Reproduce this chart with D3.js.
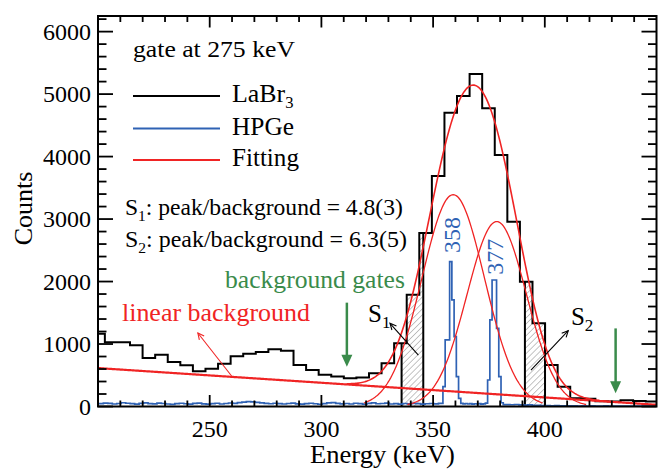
<!DOCTYPE html>
<html>
<head>
<meta charset="utf-8">
<script src="https://cdn.jsdelivr.net/npm/d3@7/dist/d3.min.js"></script>
<style>
body { margin: 0; background: #fff; }
</style>
</head>
<body>
<svg id="chart" width="658" height="474"></svg>
<script>
// LaBr3 spectrum, fixed bins (first bin starts just below 200 keV)
const LABR_START = 197.44;
const LABR_WIDTH = 5.63;
const labrCounts = [1165, 1030, 1030, 980, 776, 829, 712, 659, 563, 605, 685, 803, 845, 872, 915,
    893, 664, 584, 510, 480, 451, 464, 531, 691, 1012, 1790, 2778, 3690, 4703, 4970, 5323, 4773,
    4026, 2958, 1998, 1332, 664, 317, 131, 125, 85, 80, 100, 90, 80];

// HPGe spectrum in three pieces: 2 keV bins, 1 keV bins around the peaks, 2 keV bins again
const HPGE_LOW_START = 198.4, HPGE_LOW_W = 2;
const hpgeLowCounts = [48, 45, 55, 50, 40, 48, 60, 52, 45, 38, 50, 58, 47, 42, 55, 48, 40, 35, 46, 52,
    44, 38, 49, 55, 43, 37, 45, 52, 40, 48, 56, 50, 62, 70, 78, 75, 66, 58, 50, 44, 52, 47, 40, 48,
    55, 42, 38, 46, 52, 44, 36, 45, 58, 62, 50, 42, 48, 40, 52, 45, 38, 50, 57, 44, 48, 55, 40, 46,
    38, 48, 42, 50, 45, 38, 44, 48, 42, 50];
const HPGE_PEAK_START = 354.4, HPGE_PEAK_W = 1;
const hpgePeakCounts = [317, 1065, 1065, 2318, 1705, 1117, 477, 131, 50, 42, 48, 40, 45, 38, 44, 40,
    46, 38, 42, 55, 424, 1385, 2025, 2025, 1252, 477, 60, 30];
const HPGE_HIGH_START = 382.4, HPGE_HIGH_W = 2;
const hpgeHighCounts = [30, 28, 32, 25, 22, 26, 20, 18, 15, 14, 12, 15, 10, 12, 9, 11, 8, 10, 7, 9,
    8, 6, 9, 7, 8, 6, 7, 5, 8, 6, 7, 5, 6, 6];

// fit: linear background + two gaussians
const bgAt200 = 615, bgSlope = -2.35;
const peakLabels = ["358", "377"];
const peakAmp = [3390, 2960];
const peakMean = [359, 378.5];
const peakSigma = [14, 13.3];
const peakDrawRange = [[319, 399], [338.5, 418.5]];
const totalDrawRange = [311.4, 431.7];

// gates and annotations (keV, counts)
const gateS1 = [335.9, 345.6];
const gateS2 = [391.1, 400.1];
const bgGateE = [311.4, 431.7];
const bgGateTip = [637, 211];
const bgGateTail = [1662, 1250];

const xMajor = [250, 300, 350, 400];
const yMajor = [0, 1000, 2000, 3000, 4000, 5000, 6000];

const RED = "#f02424", BLUE = "#2f62b4", GREEN = "#3a8b4b";
const FONT = "Liberation Serif";

const svg = d3.select("#chart");
const x = d3.scaleLinear().domain([200, 450]).range([98, 656.5]);
const y = d3.scaleLinear().domain([0, 6250]).range([406.5, 16]);

const defs = svg.append("defs");
defs.append("clipPath").attr("id", "plot")
    .append("rect").attr("x", 98).attr("y", 16).attr("width", 558.5).attr("height", 390.5);
const pat = defs.append("pattern").attr("id", "hatch")
    .attr("width", 4.2).attr("height", 4.2)
    .attr("patternUnits", "userSpaceOnUse")
    .attr("patternTransform", "rotate(45)");
pat.append("line").attr("x1", 0).attr("y1", 0).attr("x2", 0).attr("y2", 4.2)
    .attr("stroke", "#8a8a8a").attr("stroke-width", 1);

const plot = svg.append("g").attr("clip-path", "url(#plot)");

// build bins
const labrBins = labrCounts.map((c, i) => ({lo: LABR_START + i * LABR_WIDTH, hi: LABR_START + (i + 1) * LABR_WIDTH, c}));
function piece(start, w, counts) {
    return counts.map((c, i) => ({lo: start + i * w, hi: start + (i + 1) * w, c}));
}
const hpgeBins = piece(HPGE_LOW_START, HPGE_LOW_W, hpgeLowCounts)
    .concat(piece(HPGE_PEAK_START, HPGE_PEAK_W, hpgePeakCounts))
    .concat(piece(HPGE_HIGH_START, HPGE_HIGH_W, hpgeHighCounts));

function steps(bins) {
    const pts = [];
    bins.forEach(b => { pts.push([b.lo, b.c]); pts.push([b.hi, b.c]); });
    return pts;
}
const line = d3.line().x(d => x(d[0])).y(d => y(d[1]));

// hatched gate areas
function gatePoly(a, b) {
    const pts = [[a, 0]];
    labrBins.forEach(bin => {
        const lo = Math.max(bin.lo, a), hi = Math.min(bin.hi, b);
        if (hi > lo) pts.push([lo, bin.c], [hi, bin.c]);
    });
    pts.push([b, 0]);
    return pts;
}
function binValue(e) {
    const b = labrBins.find(b => e >= b.lo && e <= b.hi);
    return b ? b.c : 0;
}
[gateS1, gateS2].forEach(g => {
    plot.append("path").attr("d", line(gatePoly(g[0], g[1])) + "Z")
        .attr("fill", "url(#hatch)").attr("stroke", "none");
    g.forEach(e => {
        plot.append("line")
            .attr("x1", x(e)).attr("x2", x(e))
            .attr("y1", y(0)).attr("y2", y(binValue(e)))
            .attr("stroke", "#000").attr("stroke-width", 2);
    });
});

// HPGe
plot.append("path").attr("d", line(steps(hpgeBins)))
    .attr("fill", "none").attr("stroke", BLUE).attr("stroke-width", 1.7);

// LaBr3
plot.append("path").attr("d", line(steps(labrBins)))
    .attr("fill", "none").attr("stroke", "#000").attr("stroke-width", 2);

// fit curves
const bg = e => bgAt200 + bgSlope * (e - 200);
const gauss = (i, e) => peakAmp[i] * Math.exp(-Math.pow(e - peakMean[i], 2) / (2 * peakSigma[i] * peakSigma[i]));
const curve = d3.line().x(d => x(d[0])).y(d => y(d[1]));
function sample(a, b, f) {
    return d3.range(a, b, 0.5).concat([b]).map(e => [e, f(e)]);
}
peakMean.forEach((m, i) => {
    plot.append("path").attr("d", curve(sample(peakDrawRange[i][0], peakDrawRange[i][1], e => gauss(i, e))))
        .attr("fill", "none").attr("stroke", RED).attr("stroke-width", 1.3);
});
plot.append("path").attr("d", curve(sample(200, 450, bg)))
    .attr("fill", "none").attr("stroke", RED).attr("stroke-width", 2.2);
plot.append("path").attr("d", curve(sample(totalDrawRange[0], totalDrawRange[1], e => bg(e) + gauss(0, e) + gauss(1, e))))
    .attr("fill", "none").attr("stroke", RED).attr("stroke-width", 1.6);

// frame and ticks (inward, on all four sides)
const frame = svg.append("g");
const xMinor = d3.range(210, 450, 10).filter(v => !xMajor.includes(v));
const yMinor = d3.range(200, 6250, 200).filter(v => !yMajor.includes(v));
function tick(g, x1, y1, x2, y2) {
    g.append("line").attr("x1", x1).attr("y1", y1).attr("x2", x2).attr("y2", y2)
        .attr("stroke", "#000").attr("stroke-width", 1.8);
}
xMajor.forEach(v => { tick(frame, x(v), 406.5, x(v), 395); tick(frame, x(v), 16, x(v), 27.5); });
xMinor.forEach(v => { tick(frame, x(v), 406.5, x(v), 400.5); tick(frame, x(v), 16, x(v), 22); });
yMajor.forEach(v => { tick(frame, 98, y(v), 113, y(v)); tick(frame, 656.5, y(v), 641.5, y(v)); });
yMinor.forEach(v => { tick(frame, 98, y(v), 106.5, y(v)); tick(frame, 656.5, y(v), 648, y(v)); });
frame.append("rect").attr("x", 98).attr("y", 16).attr("width", 558.5).attr("height", 390.5)
    .attr("fill", "none").attr("stroke", "#000").attr("stroke-width", 2);

function txt(parent, size) {
    return parent.append("text").attr("font-family", FONT).attr("font-size", size);
}
// stretch a text horizontally so it spans the same width as in the original figure
function fitWidth(t, target) {
    const w = t.node().getComputedTextLength();
    if (!w) return;
    const ax = +t.attr("x"), ay = +t.attr("y"), s = target / w;
    t.attr("transform", `translate(${ax},${ay}) scale(${s},1) translate(${-ax},${-ay})`);
}

// tick labels
yMajor.forEach(v => {
    txt(svg, 24).attr("x", 91).attr("y", y(v)).attr("dy", "0.34em")
        .attr("text-anchor", "end").text(v);
});
xMajor.forEach(v => {
    txt(svg, 24).attr("x", x(v)).attr("y", 437)
        .attr("text-anchor", "middle").text(v);
});

// axis titles
txt(svg, 26).attr("transform", "translate(32,208.5) rotate(-90)")
    .attr("text-anchor", "middle").text("Counts");
fitWidth(txt(svg, 26).attr("x", 382.5).attr("y", 463)
    .attr("text-anchor", "middle").text("Energy (keV)"), 145);

// header and legend
fitWidth(txt(svg, 24).attr("x", 133).attr("y", 57).text("gate at 275 keV"), 162);
const legendItems = [
    {label: "LaBr", sub: "3", color: "#000", w: 61.5},
    {label: "HPGe", sub: "", color: BLUE, w: 62},
    {label: "Fitting", sub: "", color: RED, w: 67}
];
const legendY = [96, 128.5, 160];
legendItems.forEach((it, i) => {
    svg.append("line").attr("x1", 133).attr("x2", 220).attr("y1", legendY[i]).attr("y2", legendY[i])
        .attr("stroke", it.color).attr("stroke-width", 2);
    const t = txt(svg, 25).attr("x", 232).attr("y", legendY[i] + 6.5).text(it.label);
    if (it.sub) t.append("tspan").attr("dy", 6).attr("font-size", 16).text(it.sub);
    fitWidth(t, it.w);
});

// peak/background ratios
const ratioLines = [["1", "4.8(3)"], ["2", "6.3(5)"]];
const ratioY = [215, 247];
const ratioW = [278, 282];
ratioLines.forEach((r, i) => {
    const t = txt(svg, 23).attr("x", 125).attr("y", ratioY[i]).text("S");
    t.append("tspan").attr("dy", 6).attr("font-size", 15).text(r[0]);
    t.append("tspan").attr("dy", -6).text(": peak/background = " + r[1]);
    fitWidth(t, ratioW[i]);
});

// background gates
fitWidth(txt(svg, 25.5).attr("x", 225).attr("y", 288).attr("fill", GREEN).text("background gates"), 180);
bgGateE.forEach((e, i) => {
    const xt = x(e), yTip = y(bgGateTip[i]), yTail = y(bgGateTail[i]);
    svg.append("line").attr("x1", xt).attr("x2", xt).attr("y1", yTail).attr("y2", yTip - 10)
        .attr("stroke", GREEN).attr("stroke-width", 2.5);
    svg.append("path")
        .attr("d", `M${xt - 5.5},${yTip - 12}L${xt + 5.5},${yTip - 12}L${xt},${yTip}Z`)
        .attr("fill", GREEN);
});

// arrows with open heads
function arrow(e1, c1, e2, c2, color) {
    const x1 = x(e1), y1 = y(c1), x2 = x(e2), y2 = y(c2);
    const a = Math.atan2(y2 - y1, x2 - x1), L = 7, w = 0.45;
    svg.append("line").attr("x1", x1).attr("y1", y1).attr("x2", x2).attr("y2", y2)
        .attr("stroke", color).attr("stroke-width", 1.1);
    svg.append("path")
        .attr("d", `M${x2 - L * Math.cos(a - w)},${y2 - L * Math.sin(a - w)}L${x2},${y2}L${x2 - L * Math.cos(a + w)},${y2 - L * Math.sin(a + w)}`)
        .attr("fill", "none").attr("stroke", color).attr("stroke-width", 1.1);
}
fitWidth(txt(svg, 25.5).attr("x", 122).attr("y", 321).attr("fill", RED).text("linear background"), 188);
arrow(259.8, 488, 244.7, 1176, RED);

// S1 / S2 labels
const sLabels = [{n: "1", e: 320.9, c: 1352}, {n: "2", e: 411.7, c: 1304}];
sLabels.forEach(s => {
    const t = txt(svg, 25).attr("x", x(s.e)).attr("y", y(s.c)).text("S");
    t.append("tspan").attr("dy", 6).attr("font-size", 17).text(s.n);
});
arrow(343.4, 824, 330.7, 1332, "#000");
arrow(393.8, 584, 410.5, 1213, "#000");

// HPGe peak energies
const peakLabelPos = [[362.0, 2745], [381.4, 2398]];
peakLabels.forEach((l, i) => {
    txt(svg, 24)
        .attr("transform", `translate(${x(peakLabelPos[i][0])},${y(peakLabelPos[i][1])}) rotate(-90)`)
        .attr("text-anchor", "middle").attr("fill", BLUE).text(l);
});
</script>
</body>
</html>
